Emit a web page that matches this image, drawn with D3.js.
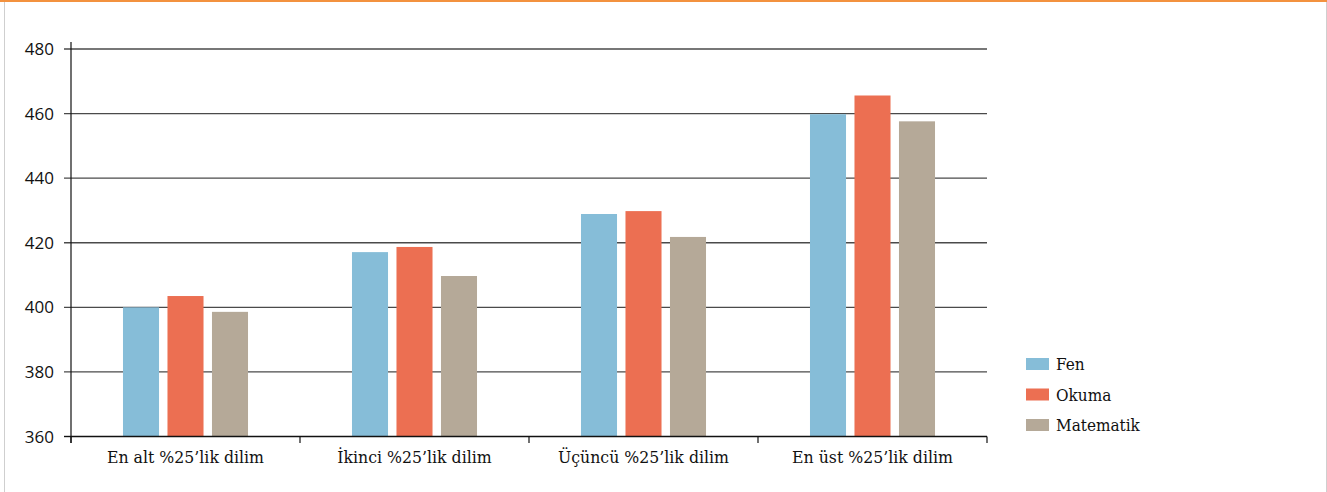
<!DOCTYPE html>
<html lang="tr">
<head>
<meta charset="utf-8">
<script src="https://cdn.jsdelivr.net/npm/d3@7"></script>
<style>
  html, body { margin: 0; padding: 0; background: #fff; }
  svg { display: block; }
  .tick-label { font-family: "Open Sans", "Noto Sans", sans-serif; font-size: 17px; fill: #111; }
  .cat-label { font-family: "DejaVu Serif", serif; font-stretch: condensed; font-size: 17.5px; fill: #111; }
  .legend-label { font-family: "DejaVu Serif", serif; font-stretch: condensed; font-size: 17px; fill: #111; }
</style>
</head>
<body>
<svg id="chart" width="1327" height="492"></svg>
<script>
// Quartile groups and the three subject scores
const categories = ["En alt %25\u2019lik dilim", "\u0130kinci %25\u2019lik dilim", "\u00dc\u00e7\u00fcnc\u00fc %25\u2019lik dilim", "En \u00fcst %25\u2019lik dilim"];
const seriesNames = ["Fen", "Okuma", "Matematik"];
const fen = [400.0, 417.1, 428.9, 459.8];
const okuma = [403.5, 418.7, 429.8, 465.6];
const matematik = [398.6, 409.7, 421.8, 457.6];
const yTicks = [360, 380, 400, 420, 440, 460, 480];
const colors = ["#86bdd8", "#ec6f52", "#b5a998"];

const values = [fen, okuma, matematik];

const svg = d3.select("#chart");
const W = 1327, H = 492;

// frame: orange top rule and light side borders
svg.append("rect").attr("x", 0).attr("y", 0).attr("width", W).attr("height", 2).attr("fill", "#f3923f");
svg.append("rect").attr("x", 4).attr("y", 2).attr("width", 1).attr("height", H - 2).attr("fill", "#cfcfcf");
svg.append("rect").attr("x", 1326).attr("y", 2).attr("width", 1).attr("height", H - 2).attr("fill", "#cfcfcf");

const plot = { left: 71, right: 987, top: 49, bottom: 436.5 };

const y = d3.scaleLinear().domain([360, 480]).range([plot.bottom, plot.top]);
const x0 = d3.scaleBand().domain(categories).range([plot.left, plot.right]).paddingInner(0).paddingOuter(0);
const groupW = x0.bandwidth() * 0.546;
const x1 = d3.scaleBand().domain(seriesNames).range([0, groupW]).paddingInner(0.19).paddingOuter(0);

// horizontal gridlines with left tick stubs
const grid = svg.append("g");
grid.selectAll("line").data(yTicks.filter(t => t !== 360)).join("line")
  .attr("x1", plot.left - 7).attr("x2", plot.right)
  .attr("y1", d => y(d)).attr("y2", d => y(d))
  .attr("stroke", "#4a4a4a").attr("stroke-width", 1.4);

// bars
const groups = svg.append("g").selectAll("g").data(categories).join("g")
  .attr("transform", c => `translate(${x0(c) + (x0.bandwidth() - groupW) / 2},0)`);
groups.selectAll("rect").data((c, i) => seriesNames.map((s, j) => ({ s, j, v: values[j][i] }))).join("rect")
  .attr("x", d => x1(d.s))
  .attr("width", x1.bandwidth())
  .attr("y", d => y(d.v))
  .attr("height", d => y(360) - y(d.v))
  .attr("fill", d => colors[d.j]);

// y axis line and tick labels
svg.append("line").attr("x1", plot.left).attr("x2", plot.left).attr("y1", 42).attr("y2", plot.bottom + 6.5)
  .attr("stroke", "#111").attr("stroke-width", 1.2);
svg.append("line").attr("x1", plot.left - 7).attr("x2", plot.left).attr("y1", y(360)).attr("y2", y(360))
  .attr("stroke", "#111").attr("stroke-width", 1.4);
svg.append("g").selectAll("text").data(yTicks).join("text")
  .attr("class", "tick-label")
  .attr("x", 54).attr("y", d => y(d)).attr("dy", "0.36em")
  .attr("text-anchor", "end")
  .text(d => d);

// category axis
const xAxis = d3.axisBottom(x0).tickSize(0).tickFormat("");
svg.append("g").attr("transform", `translate(0,${plot.bottom})`).call(xAxis)
  .call(g => g.select(".domain").attr("stroke", "#111").attr("stroke-width", 1.4).attr("d", `M${plot.left},0H${plot.right}`));
const boundaries = categories.map(c => x0(c)).concat([plot.right]);
svg.append("g").selectAll("line").data(boundaries).join("line")
  .attr("x1", d => d).attr("x2", d => d)
  .attr("y1", plot.bottom).attr("y2", plot.bottom + 6.5)
  .attr("stroke", "#111").attr("stroke-width", 1.2);
svg.append("g").selectAll("text").data(categories).join("text")
  .attr("class", "cat-label")
  .attr("x", c => x0(c) + x0.bandwidth() / 2)
  .attr("y", 463)
  .attr("text-anchor", "middle")
  .text(c => c);

// legend
const legend = svg.append("g").attr("transform", "translate(1026,358)");
const items = legend.selectAll("g").data(seriesNames).join("g")
  .attr("transform", (d, i) => `translate(0,${i * 30.5})`);
items.append("rect").attr("width", 23).attr("height", 12).attr("fill", (d, i) => colors[i]);
items.append("text").attr("class", "legend-label").attr("x", 30).attr("y", 6).attr("dy", "0.36em").text(d => d);
</script>
</body>
</html>
